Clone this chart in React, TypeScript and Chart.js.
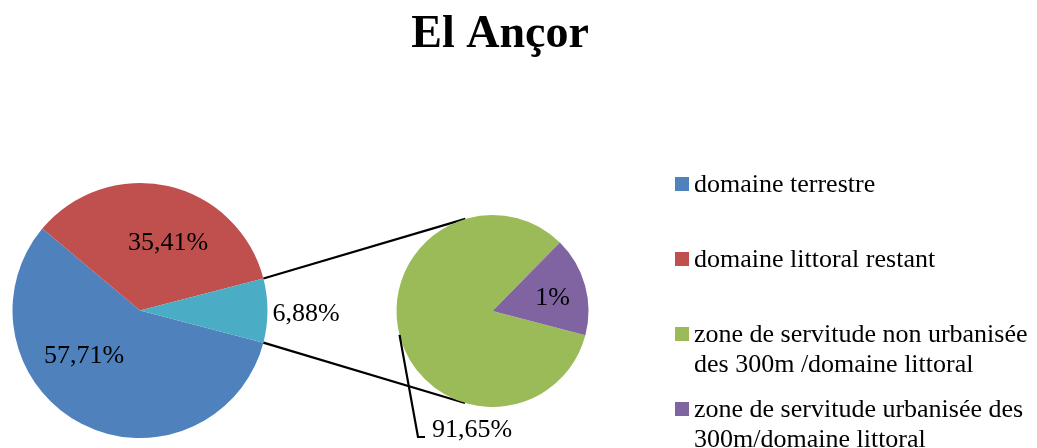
import { useEffect, useRef } from "react";
import { Chart, registerables } from "chart.js";

Chart.register(...registerables);

const titleText = "El Ançor";

const mainCategories = ["domaine terrestre", "domaine littoral restant", "zone de servitude des 300m"];
const mainValues = [57.05, 34.85, 8.1];
const mainLabels = ["57,71%", "35,41%", "6,88%"];
const mainColors = ["#4F81BD", "#C0504D", "#4BACC6"];

const subCategories = [
  "zone de servitude non urbanisée des 300m /domaine littoral",
  "zone de servitude urbanisée des 300m/domaine littoral",
];
const subValues = [83.3, 16.7];
const subLabels = ["91,65%", "1%"];
const subColors = ["#9BBB59", "#8064A2"];

const legendLines = [
  ["domaine terrestre"],
  ["domaine littoral restant"],
  ["zone de servitude non urbanisée", "des 300m /domaine littoral"],
  ["zone de servitude urbanisée des", "300m/domaine littoral"],
];
const legendColors = ["#4F81BD", "#C0504D", "#9BBB59", "#8064A2"];

const FONT = "'Liberation Serif', 'Times New Roman', serif";
const W = 1037;
const H = 448;

const deg = (d: number) => (d * Math.PI) / 180;

export default function App() {
  const mainRef = useRef<HTMLCanvasElement | null>(null);
  const subRef = useRef<HTMLCanvasElement | null>(null);

  useEffect(() => {
    if (!mainRef.current || !subRef.current) return;

    const mainPlugin = {
      id: "mainDecor",
      afterDraw(chart: any) {
        const ctx = chart.ctx;
        ctx.save();
        ctx.fillStyle = "#000";
        ctx.font = `bold 46px ${FONT}`;
        ctx.textAlign = "center";
        ctx.textBaseline = "alphabetic";
        ctx.fillText(titleText, 500, 47);

        const meta = chart.getDatasetMeta(0);
        const place = [
          { a: 141, f: 0.565, align: "center" },
          { a: -67.5, f: 0.573, align: "center" },
          { a: 1.5, f: 1.04, align: "left" },
        ];
        ctx.font = `26px ${FONT}`;
        ctx.textBaseline = "middle";
        meta.data.forEach((arc: any, i: number) => {
          const p = place[i];
          const r = arc.outerRadius * p.f;
          ctx.textAlign = p.align;
          ctx.fillText(mainLabels[i], arc.x + r * Math.cos(deg(p.a)), arc.y + r * Math.sin(deg(p.a)));
        });

        const rowTops = [185, 260, 335, 410];
        legendLines.forEach((lines, i) => {
          const y0 = rowTops[i];
          ctx.fillStyle = legendColors[i];
          ctx.fillRect(675, y0 - 8, 14, 14);
          ctx.fillStyle = "#000";
          ctx.textAlign = "left";
          lines.forEach((t, j) => ctx.fillText(t, 694, y0 + j * 30));
        });
        ctx.restore();
      },
    };

    const mainChart = new Chart(mainRef.current, {
      type: "pie",
      data: {
        labels: mainCategories,
        datasets: [
          {
            data: mainValues,
            backgroundColor: mainColors,
            borderWidth: 0,
            hoverOffset: 0,
          },
        ],
      },
      options: {
        responsive: false,
        devicePixelRatio: 1,
        animation: false,
        events: [],
        rotation: 104.6,
        layout: { padding: { left: 12, top: 183, right: W - 268, bottom: H - 438 } },
        plugins: { legend: { display: false }, tooltip: { enabled: false }, title: { display: false } },
      },
      plugins: [mainPlugin],
    } as any);

    const subPlugin = {
      id: "subDecor",
      beforeDatasetsDraw(chart: any) {
        const ctx = chart.ctx;
        const big = mainChart.getDatasetMeta(0).data[2] as any;
        const sub = chart.getDatasetMeta(0).data[0] as any;
        const cx = sub.x;
        const cy = sub.y;
        const r = sub.outerRadius;
        const pts = [
          { ang: big.startAngle, sign: 1 },
          { ang: big.endAngle, sign: -1 },
        ];
        ctx.save();
        ctx.strokeStyle = "#000";
        ctx.lineWidth = 2.2;
        pts.forEach(({ ang, sign }) => {
          const px = big.x + big.outerRadius * Math.cos(ang);
          const py = big.y + big.outerRadius * Math.sin(ang);
          const d = Math.hypot(px - cx, py - cy);
          const base = Math.atan2(py - cy, px - cx);
          const th = Math.acos(r / d);
          const t = base + sign * th;
          ctx.beginPath();
          ctx.moveTo(px, py);
          ctx.lineTo(cx + r * Math.cos(t), cy + r * Math.sin(t));
          ctx.stroke();
        });
        ctx.restore();
      },
      afterDatasetsDraw(chart: any) {
        const ctx = chart.ctx;
        const meta = chart.getDatasetMeta(0);
        const a0 = meta.data[0] as any;
        const cx = a0.x;
        const cy = a0.y;
        const r = a0.outerRadius;
        ctx.save();
        ctx.fillStyle = "#000";
        ctx.strokeStyle = "#000";
        ctx.lineWidth = 2.2;
        ctx.font = `26px ${FONT}`;
        ctx.textBaseline = "middle";
        const sa = deg(165.6);
        ctx.beginPath();
        ctx.moveTo(cx + r * Math.cos(sa), cy + r * Math.sin(sa));
        ctx.lineTo(cx - 74.5, cy + 126);
        ctx.lineTo(cx - 67.5, cy + 126);
        ctx.stroke();
        ctx.textAlign = "left";
        ctx.fillText(subLabels[0], cx - 60.5, cy + 119);
        const la = deg(-12);
        const lr = r * 0.64;
        ctx.textAlign = "center";
        ctx.fillText(subLabels[1], cx + lr * Math.cos(la), cy + lr * Math.sin(la));
        ctx.restore();
      },
    };

    const subChart = new Chart(subRef.current, {
      type: "pie",
      data: {
        labels: subCategories,
        datasets: [
          {
            data: subValues,
            backgroundColor: subColors,
            borderWidth: 0,
            hoverOffset: 0,
          },
        ],
      },
      options: {
        responsive: false,
        devicePixelRatio: 1,
        animation: false,
        events: [],
        rotation: 104.7,
        layout: { padding: { left: 396, top: 215, right: W - 589, bottom: H - 407 } },
        plugins: { legend: { display: false }, tooltip: { enabled: false }, title: { display: false } },
      },
      plugins: [subPlugin],
    } as any);

    return () => {
      subChart.destroy();
      mainChart.destroy();
    };
  }, []);

  return (
    <div style={{ position: "absolute", left: 0, top: 0, width: W, height: H, background: "#fff" }}>
      <canvas ref={mainRef} width={W} height={H} style={{ position: "absolute", left: 0, top: 0 }} />
      <canvas ref={subRef} width={W} height={H} style={{ position: "absolute", left: 0, top: 0 }} />
    </div>
  );
}
